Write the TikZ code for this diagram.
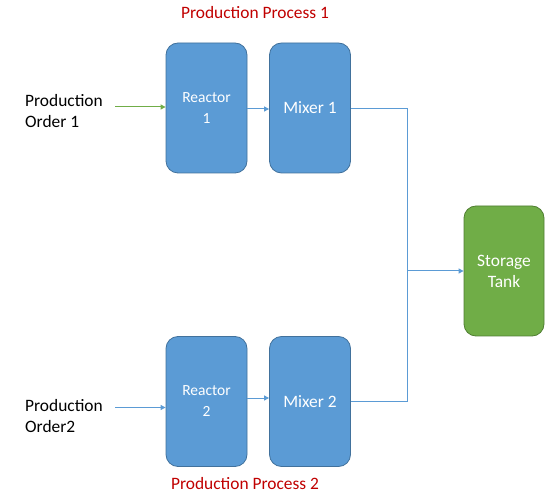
\documentclass[tikz,border=0pt]{standalone}
\usepackage{fontspec}
\setmainfont{Carlito}
\usetikzlibrary{arrows.meta}
\definecolor{boxblue}{HTML}{5B9BD5}
\definecolor{boxblueline}{HTML}{41719C}
\definecolor{boxgreen}{HTML}{70AD47}
\definecolor{boxgreenline}{HTML}{507E32}
\definecolor{redtxt}{HTML}{C00000}
\tikzset{
  unitbox/.style={rounded corners=12pt, minimum width=81pt, minimum height=130pt, inner sep=0pt, align=center, text=white, line width=0.8pt},
  bluebox/.style={unitbox, fill=boxblue, draw=boxblueline},
  greenbox/.style={unitbox, fill=boxgreen, draw=boxgreenline, minimum width=80pt},
  bigtxt/.style={font=\fontsize{17.4pt}{21pt}\selectfont},
  smalltxt/.style={font=\fontsize{15.5pt}{21pt}\selectfont},
  ordertxt/.style={bigtxt, align=left, anchor=west, inner sep=0pt, text=black},
  redlabel/.style={bigtxt, text=redtxt, inner sep=0pt},
  flow/.style={draw=boxblue, line width=1pt},
  flowarrow/.style={flow, -{Triangle[length=5pt,width=5pt]}},
}
\begin{document}
\begin{tikzpicture}[x=1pt,y=-1pt]
\useasboundingbox (0,0) rectangle (554,502);
\node[bluebox, smalltxt] (r1) at (206.5,108) {Reactor\\1};
\node[bluebox, bigtxt] (m1) at (310,108) {Mixer 1};
\node[bluebox, smalltxt] (r2) at (206.5,401.5) {Reactor\\2};
\node[bluebox, bigtxt] (m2) at (310,401.5) {Mixer 2};
\node[greenbox, bigtxt] (tank) at (504,271) {Storage\\Tank};
\node[ordertxt] (o1) at (25,111.5) {Production\\Order 1};
\node[ordertxt] (o2) at (25,416.5) {Production\\Order2};
\node[redlabel] (p1) at (255,13) {Production Process 1};
\node[redlabel] (p2) at (245,484) {Production Process 2};
\coordinate (s1) at (115,107);
\coordinate (s2) at (115,407.5);
\coordinate (j) at (407,271);
\draw[flowarrow, draw=boxgreen, -{Triangle[length=5pt,width=5pt,fill=boxgreen]}] (s1) -- (r1.west |- s1);
\draw[flowarrow] (s2) -- (r2.west |- s2);
\draw[flowarrow] ([yshift=-1pt]r1.east) -- ([yshift=-1pt]m1.west);
\draw[flowarrow] ([yshift=3.5pt]r2.east) -- ([yshift=3.5pt]m2.west);
\draw[flow] ([yshift=-1pt]m1.east) -| (j);
\draw[flow] (m2.east) -| (j);
\draw[flowarrow] (j) -- (tank.west);
\end{tikzpicture}
\end{document}
